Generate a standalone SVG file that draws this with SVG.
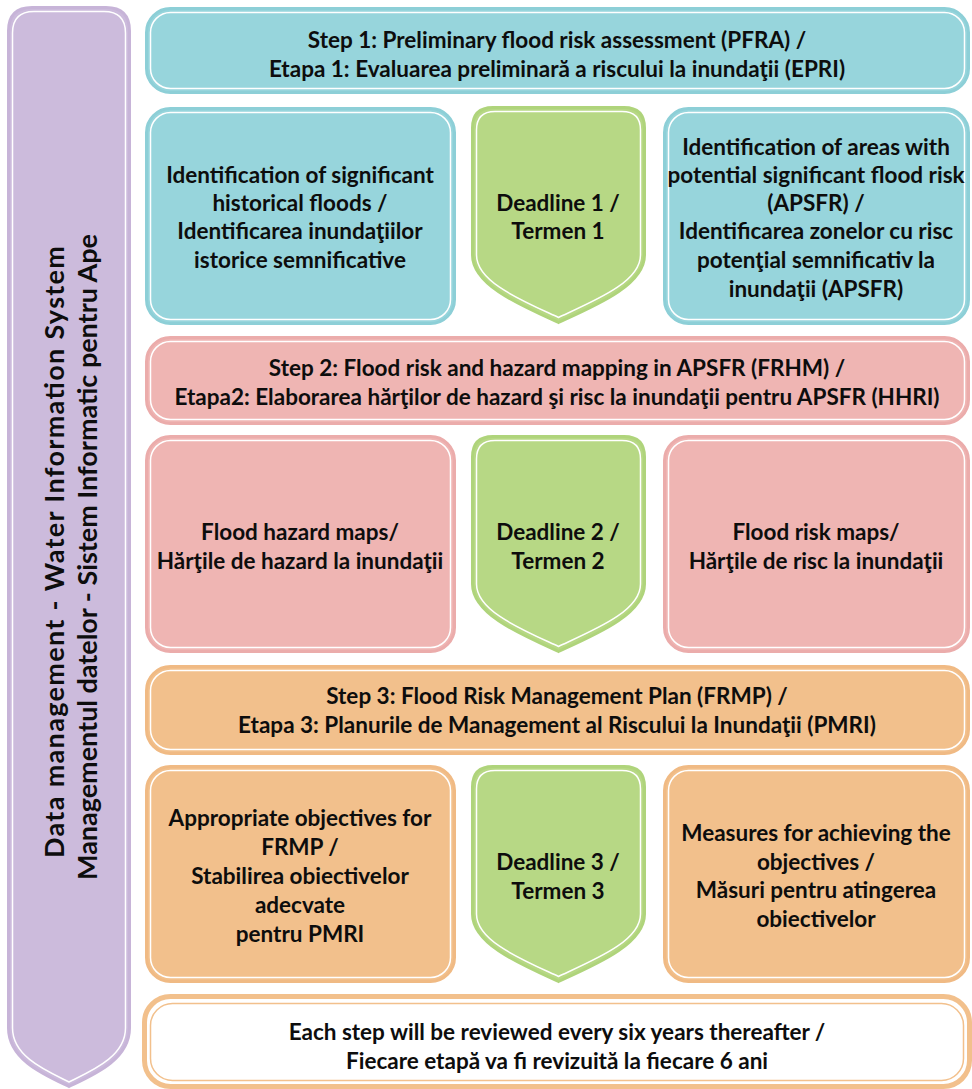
<svg xmlns="http://www.w3.org/2000/svg" width="972" height="1089" viewBox="0 0 972 1089">
<style>
text{font-family:Lato,"Liberation Sans",sans-serif;font-weight:bold;font-size:22.5px;fill:#0d0d0d;text-anchor:middle}
.side{font-size:27px}
.in{fill:none;stroke:#fff;stroke-width:1.5}
.teal{fill:#97d5dc;stroke:#8dcfd7;stroke-width:3}
.pink{fill:#efb5b3;stroke:#ebacab;stroke-width:3}
.orng{fill:#f2c08c;stroke:#f0ba84;stroke-width:3}
.grn{fill:#b7d885;stroke:#afd47b;stroke-width:3}
.purp{fill:#ccbbdc;stroke:#c7b4d8;stroke-width:3}
</style>
<defs>
<path id="dlo" d="M 472.5,128 Q 472.5,107.5 493,107.5 H 624 Q 644.5,107.5 644.5,128 V 255 C 644.5,285 597,305 558.5,322.5 C 520,305 472.5,285 472.5,255 Z"/>
<path id="dli" d="M 476.5,130 Q 476.5,111.5 495,111.5 H 622 Q 640.5,111.5 640.5,130 V 255 C 640.5,282 596,300 558.5,317.5 C 521,300 476.5,282 476.5,255 Z"/>
</defs>

<g id="data-management">
<path class="purp" d="M 8.5,31 Q 8.5,7.5 32,7.5 H 106 Q 129.5,7.5 129.5,31 V 1028 C 129.5,1060 93,1075 69,1086.5 C 45,1075 8.5,1060 8.5,1028 Z"/>
<path class="in" d="M 12.5,33 Q 12.5,11.5 34,11.5 H 104 Q 125.5,11.5 125.5,33 V 1028 C 125.5,1057 91,1071 69,1082 C 47,1071 12.5,1057 12.5,1028 Z"/>
<text class="side" transform="translate(64,552) rotate(-90)" textLength="612">Data management - Water Information System</text>
<text class="side" transform="translate(97,557) rotate(-90)" textLength="646">Managementul datelor - Sistem Informatic pentru Ape</text>
</g>

<g id="step1">
<rect class="teal" x="146.5" y="8.5" width="822" height="84" rx="24"/>
<rect class="in" x="150.5" y="12.5" width="814" height="76" rx="20"/>
<text x="557" y="48">Step 1: Preliminary flood risk assessment (PFRA) /</text>
<text x="557" y="77">Etapa 1: Evaluarea preliminară a riscului la inundaţii (EPRI)</text>
</g>

<g id="historical-floods">
<rect class="teal" x="146.5" y="108.5" width="308" height="215" rx="24"/>
<rect class="in" x="150.5" y="112.5" width="300" height="207" rx="20"/>
<text x="300" y="183">Identification of significant</text>
<text x="300" y="211">historical floods /</text>
<text x="300" y="239">Identificarea inundaţiilor</text>
<text x="300" y="268">istorice semnificative</text>
</g>

<g id="deadline1">
<use href="#dlo" class="grn"/>
<use href="#dli" class="in"/>
<text x="558" y="211">Deadline 1 /</text>
<text x="558" y="239">Termen 1</text>
</g>

<g id="apsfr">
<rect class="teal" x="664.5" y="108.5" width="304" height="215" rx="24"/>
<rect class="in" x="668.5" y="112.5" width="296" height="207" rx="20"/>
<text x="816" y="155">Identification of areas with</text>
<text x="816" y="183">potential significant flood risk</text>
<text x="816" y="211">(APSFR) /</text>
<text x="816" y="239">Identificarea zonelor cu risc</text>
<text x="816" y="268">potenţial semnificativ la</text>
<text x="816" y="297">inundaţii (APSFR)</text>
</g>

<g id="step2">
<rect class="pink" x="146.5" y="337.5" width="822" height="86" rx="24"/>
<rect class="in" x="150.5" y="341.5" width="814" height="78" rx="20"/>
<text x="557" y="376">Step 2: Flood risk and hazard mapping in APSFR (FRHM) /</text>
<text x="557" y="405">Etapa2: Elaborarea hărţilor de hazard şi risc la inundaţii pentru APSFR (HHRI)</text>
</g>

<g id="hazard-maps">
<rect class="pink" x="146.5" y="436.5" width="308" height="215" rx="24"/>
<rect class="in" x="150.5" y="440.5" width="300" height="207" rx="20"/>
<text x="300" y="540">Flood hazard maps/</text>
<text x="300" y="569">Hărţile de hazard la inundaţii</text>
</g>

<g id="deadline2" transform="translate(0,329)">
<use href="#dlo" class="grn"/>
<use href="#dli" class="in"/>
<text x="558" y="211">Deadline 2 /</text>
<text x="558" y="240">Termen 2</text>
</g>

<g id="risk-maps">
<rect class="pink" x="664.5" y="436.5" width="304" height="215" rx="24"/>
<rect class="in" x="668.5" y="440.5" width="296" height="207" rx="20"/>
<text x="816" y="540">Flood risk maps/</text>
<text x="816" y="569">Hărţile de risc la inundaţii</text>
</g>

<g id="step3">
<rect class="orng" x="146.5" y="666.5" width="822" height="87" rx="24"/>
<rect class="in" x="150.5" y="670.5" width="814" height="79" rx="20"/>
<text x="557" y="704">Step 3: Flood Risk Management Plan (FRMP) /</text>
<text x="557" y="733">Etapa 3: Planurile de Management al Riscului la Inundaţii (PMRI)</text>
</g>

<g id="objectives">
<rect class="orng" x="146.5" y="766.5" width="308" height="215" rx="24"/>
<rect class="in" x="150.5" y="770.5" width="300" height="207" rx="20"/>
<text x="300" y="826">Appropriate objectives for</text>
<text x="300" y="855">FRMP /</text>
<text x="300" y="884">Stabilirea obiectivelor</text>
<text x="300" y="913">adecvate</text>
<text x="300" y="942">pentru PMRI</text>
</g>

<g id="deadline3" transform="translate(0,659)">
<use href="#dlo" class="grn"/>
<use href="#dli" class="in"/>
<text x="558" y="211">Deadline 3 /</text>
<text x="558" y="240">Termen 3</text>
</g>

<g id="measures">
<rect class="orng" x="664.5" y="766.5" width="304" height="215" rx="24"/>
<rect class="in" x="668.5" y="770.5" width="296" height="207" rx="20"/>
<text x="816" y="841">Measures for achieving the</text>
<text x="816" y="870">objectives /</text>
<text x="816" y="898">Măsuri pentru atingerea</text>
<text x="816" y="927">obiectivelor</text>
</g>

<g id="review">
<rect x="144.5" y="996.5" width="825" height="90" rx="26" fill="#fff" stroke="#f2c08c" stroke-width="5"/>
<rect x="150.5" y="1003.5" width="813" height="77" rx="22" fill="none" stroke="#f2c08c" stroke-width="1.5"/>
<text x="557" y="1040">Each step will be reviewed every six years thereafter /</text>
<text x="557" y="1069">Fiecare etapă va fi revizuită la fiecare 6 ani</text>
</g>
</svg>
